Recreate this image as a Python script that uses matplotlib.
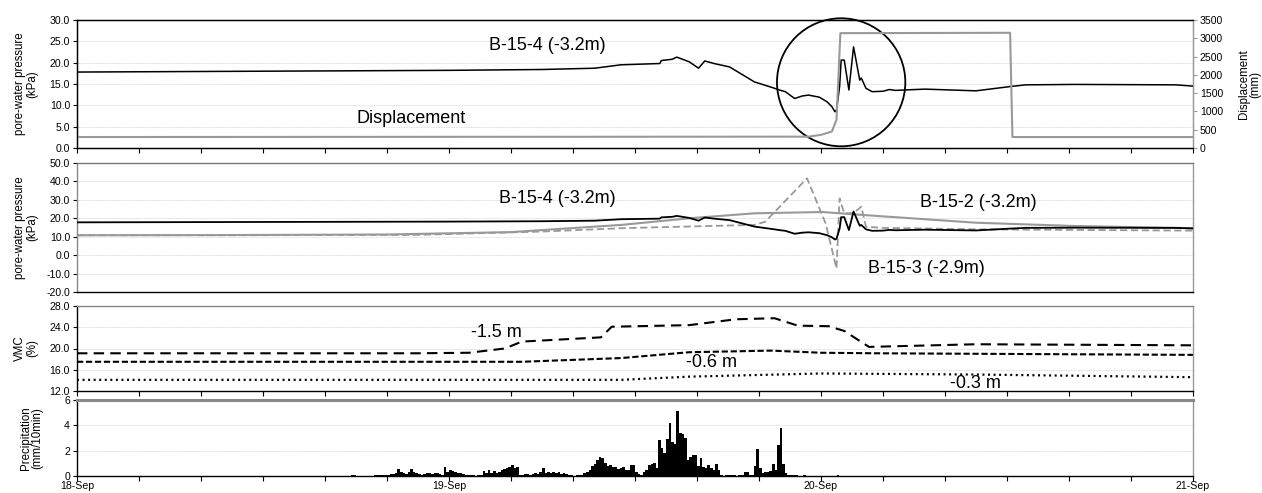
import matplotlib
matplotlib.use("Agg")
import matplotlib.pyplot as plt
from matplotlib.patches import Ellipse
import numpy as np

plt.rcParams['font.family'] = ['Liberation Sans', 'DejaVu Sans']

# ---------------- data (time in hours since 18-Sep 00:00) ----------------
b154_t = [0, 6, 12, 18, 24, 30, 33.4, 35.1, 37.6, 37.7, 38.4, 38.7, 39.5, 40.1, 40.5,
          41.1, 42.1, 43.7, 45.0, 45.3, 45.7, 46.3, 46.8, 47.2, 47.9, 48.4, 48.7, 48.9,
          49.0, 49.2, 49.3, 49.5, 49.8, 50.1, 50.5, 50.6, 50.9, 51.3, 52.0, 52.4, 52.8,
          54.7, 58.0, 60.2, 61.2, 64.4, 70.9, 72]
b154_v = [17.8, 17.9, 18.0, 18.1, 18.2, 18.4, 18.7, 19.5, 19.8, 20.5, 20.8, 21.3, 20.2, 18.7, 20.4,
          19.8, 19.0, 15.5, 14.0, 13.6, 13.2, 11.6, 12.2, 12.4, 11.9, 10.8, 9.7, 8.5,
          8.9, 14.4, 20.6, 20.6, 13.6, 23.7, 15.9, 16.4, 14.0, 13.2, 13.3, 13.7, 13.5,
          13.8, 13.4, 14.4, 14.8, 14.9, 14.8, 14.5]

disp_t = [0, 47.2, 48.0, 48.7, 49.0, 49.25, 60.2, 60.35, 72]
disp_v = [300, 310, 360, 450, 770, 3140, 3150, 300, 300]

b152_t = [0, 10, 20, 28, 35.1, 39.5, 43.7, 48.1, 50.7, 58.0, 64.4, 72]
b152_v = [10.8, 10.9, 11.2, 12.5, 16.4, 20.0, 22.7, 23.4, 21.8, 17.6, 15.8, 14.6]

b153_t = [0, 10, 22, 30, 35.1, 37.3, 43.7, 44.4, 47.1, 48.3, 49.0, 49.2, 49.5, 50.1,
          50.6, 50.9, 52.0, 58.0, 72]
b153_v = [10.8, 10.8, 11.0, 12.8, 14.6, 15.1, 16.4, 18.1, 41.7, 17.2, -7.2, 30.8, 22.7, 22.8,
          26.3, 15.4, 14.8, 14.0, 13.3]

vmc15_t = [0, 22, 25.3, 27.6, 28.7, 33.8, 34.5, 39.5, 42.5, 45.0, 46.5, 48.5, 49.5, 51.1, 58.0, 72]
vmc15_v = [19.1, 19.1, 19.2, 20.0, 21.3, 22.1, 24.1, 24.4, 25.5, 25.7, 24.3, 24.2, 23.3, 20.3, 20.8, 20.6]

vmc06_t = [0, 22, 28.7, 35.1, 39.5, 44.8, 48.0, 51.5, 72]
vmc06_v = [17.5, 17.5, 17.5, 18.2, 19.3, 19.6, 19.2, 19.1, 18.8]

vmc03_t = [0, 35.1, 39.5, 48.0, 58.0, 72]
vmc03_v = [14.1, 14.1, 14.7, 15.3, 15.1, 14.6]

rain_start = 17.5  # hours; 10-minute totals follow
rain_v = [0, 0.05, 0.05, 0, 0, 0, 0, 0, 0, 0,
          0.05, 0.05, 0.05, 0.1, 0.1, 0.1, 0.15, 0.15, 0.2, 0.55,
          0.3, 0.2, 0.15, 0.3, 0.55, 0.3, 0.2, 0.15, 0.1, 0.15,
          0.2, 0.2, 0.15, 0.25, 0.2, 0.15, 0.1, 0.75, 0.3, 0.5,
          0.4, 0.3, 0.25, 0.2, 0.15, 0.05, 0.05, 0.1, 0.05, 0,
          0.05, 0.05, 0.4, 0.2, 0.45, 0.25, 0.4, 0.2, 0.3, 0.5,
          0.55, 0.65, 0.75, 0.9, 0.6, 0.7, 0.1, 0.05, 0.15, 0.15,
          0.1, 0.15, 0.2, 0.15, 0.3, 0.6, 0.2, 0.35, 0.2, 0.35,
          0.25, 0.3, 0.15, 0.2, 0.15, 0.05, 0.05, 0, 0.05, 0.05,
          0.1, 0.2, 0.3, 0.45, 0.8, 0.95, 1.3, 1.5, 1.45, 1.0,
          0.8, 0.85, 0.75, 0.7, 0.55, 0.6, 0.75, 0.5, 0.45, 0.85,
          0.85, 0.3, 0.15, 0.1, 0.3, 0.5, 0.85, 0.95, 1.0, 0.6,
          2.85, 2.2, 1.8, 2.9, 4.15, 2.7, 2.5, 5.15, 3.4, 3.3,
          3.0, 1.3, 1.5, 1.65, 1.65, 0.8, 1.4, 0.7, 0.6, 0.9,
          0.6, 0.5, 0.95, 0.5, 0.1, 0, 0.05, 0.05, 0.05, 0.05,
          0, 0.05, 0.05, 0.3, 0.3, 0.05, 0.1, 0.8, 2.1, 0.6,
          0.2, 0.3, 0.35, 0.4, 0.95, 0.5, 2.45, 3.8, 0.95, 0.25,
          0.1, 0.05, 0.05, 0.05, 0, 0, 0.05, 0, 0, 0,
          0, 0, 0, 0, 0, 0, 0, 0, 0, 0.05]

date_labels = ['18-Sep', '19-Sep', '20-Sep', '21-Sep']
date_ticks = [0, 24, 48, 72]

# ---------------- figure ----------------
W, H = 1262, 493
fig = plt.figure(figsize=(W / 100, H / 100), dpi=100)

def add_ax(top, bottom, left=77, right=1193):
    return fig.add_axes([left / W, 1 - bottom / H, (right - left) / W, (bottom - top) / H])

ax1 = add_ax(20, 148)
ax2 = add_ax(163, 292)
ax3 = add_ax(306, 391)
ax4 = add_ax(400, 476)

TICK = 7.6
LAB = 8.3
ANN = 13
GRAY = '#999999'

for ax in (ax1, ax2, ax3, ax4):
    ax.set_xlim(0, 72)
    ax.set_xticks(np.arange(0, 73, 4))
    ax.tick_params(axis='x', direction='out', length=3.5, width=0.8, labelbottom=False)
    ax.tick_params(axis='y', direction='out', length=3, width=0.8, labelsize=TICK, pad=2)
    ax.yaxis.grid(True, linestyle=(0, (1, 1)), color='#cfcfcf', linewidth=0.6)
    ax.set_axisbelow(True)
    for s in ax.spines.values():
        s.set_linewidth(1.0)
    ax.spines['right'].set_color(GRAY)

# ---- panel 1 ----
ax1.plot(b154_t, b154_v, color='black', lw=1.1, zorder=3)
ax1.set_ylim(0, 30)
ax1.set_yticks(np.arange(0, 31, 5))
ax1.yaxis.set_major_formatter(matplotlib.ticker.FormatStrFormatter('%.1f'))
ax1.set_ylabel('pore-water pressure\n(kPa)', fontsize=LAB, linespacing=1.0)
ax1.yaxis.set_label_coords(-0.035, 0.5)
ax1r = ax1.twinx()
ax1r.plot(disp_t, disp_v, color=GRAY, lw=1.5, zorder=2)
ax1r.set_ylim(0, 3500)
ax1r.set_yticks(np.arange(0, 3501, 500))
ax1r.tick_params(axis='y', direction='out', length=3, width=0.8, labelsize=TICK, pad=2, color=GRAY)
ax1r.spines['right'].set_color(GRAY)
ax1r.set_ylabel('Displacement\n(mm)', fontsize=LAB, linespacing=1.0)
ax1r.yaxis.set_label_coords(1.040, 0.5)
ax1.text(26.6, 24.1, 'B-15-4 (-3.2m)', fontsize=ANN, va='center', ha='left')
ax1.text(18.0, 7.0, 'Displacement', fontsize=ANN, va='center', ha='left')
ax1.add_patch(Ellipse((49.3, 15.4), 8.28, 30.0, fill=False, edgecolor='black',
                      lw=1.3, clip_on=False, zorder=5))

# ---- panel 2 ----
ax2.plot(b152_t, b152_v, color=GRAY, lw=1.5, zorder=2)
ax2.plot(b153_t, b153_v, color=GRAY, lw=1.3, dashes=(4, 2), zorder=2)
ax2.plot(b154_t, b154_v, color='black', lw=1.3, zorder=3)
ax2.set_ylim(-20, 50)
ax2.set_yticks(np.arange(-20, 51, 10))
ax2.yaxis.set_major_formatter(matplotlib.ticker.FormatStrFormatter('%.1f'))
ax2.tick_params(axis='x', length=0)
ax2.set_ylabel('pore-water pressure\n(kPa)', fontsize=LAB, linespacing=1.0)
ax2.yaxis.set_label_coords(-0.035, 0.5)
ax2.spines['top'].set_color('#777777')
ax2.spines['left'].set_color('#888888')
ax2.text(27.2, 31.0, 'B-15-4 (-3.2m)', fontsize=ANN, va='center', ha='left')
ax2.text(54.4, 28.8, 'B-15-2 (-3.2m)', fontsize=ANN, va='center', ha='left')
ax2.text(51.0, -7.0, 'B-15-3 (-2.9m)', fontsize=ANN, va='center', ha='left')

# ---- panel 3 ----
ax3.plot(vmc15_t, vmc15_v, color='black', lw=1.5, dashes=(5, 3))
ax3.plot(vmc06_t, vmc06_v, color='black', lw=1.5, dashes=(3, 1.3))
ax3.plot(vmc03_t, vmc03_v, color='black', lw=1.6, dashes=(0.9, 1.6))
ax3.set_ylim(12, 28)
ax3.set_yticks(np.arange(12, 29, 4))
ax3.yaxis.set_major_formatter(matplotlib.ticker.FormatStrFormatter('%.1f'))
ax3.set_ylabel('VMC\n(%)', fontsize=LAB, linespacing=1.0)
ax3.yaxis.set_label_coords(-0.035, 0.5)
ax3.spines['top'].set_color('#888888')
ax3.text(25.4, 23.1, '-1.5 m', fontsize=ANN, va='center', ha='left')
ax3.text(39.3, 17.3, '-0.6 m', fontsize=ANN, va='center', ha='left')
ax3.text(56.3, 13.5, '-0.3 m', fontsize=ANN, va='center', ha='left')

# ---- panel 4 ----
rain_t = rain_start + np.arange(len(rain_v)) / 6.0
ax4.bar(rain_t, rain_v, width=1 / 6.0, align='edge', color='black', edgecolor='none', zorder=3)
ax4.set_ylim(0, 6)
ax4.set_yticks([0, 2, 4, 6])
ax4.set_ylabel('Precipitation\n(mm/10min)', fontsize=LAB, linespacing=1.0)
ax4.yaxis.set_label_coords(-0.030, 0.5)
ax4.spines['top'].set_color('#888888')
ax4.spines['top'].set_linewidth(2.2)
ax4.tick_params(axis='x', labelbottom=False)
for t, lab in zip(date_ticks, date_labels):
    ax4.annotate(lab, xy=(t, 0), xycoords=('data', 'axes fraction'),
                 xytext=(0, -5), textcoords='offset pixels',
                 ha='center', va='top', fontsize=TICK, annotation_clip=False)

fig.savefig('out.png', dpi=100)
